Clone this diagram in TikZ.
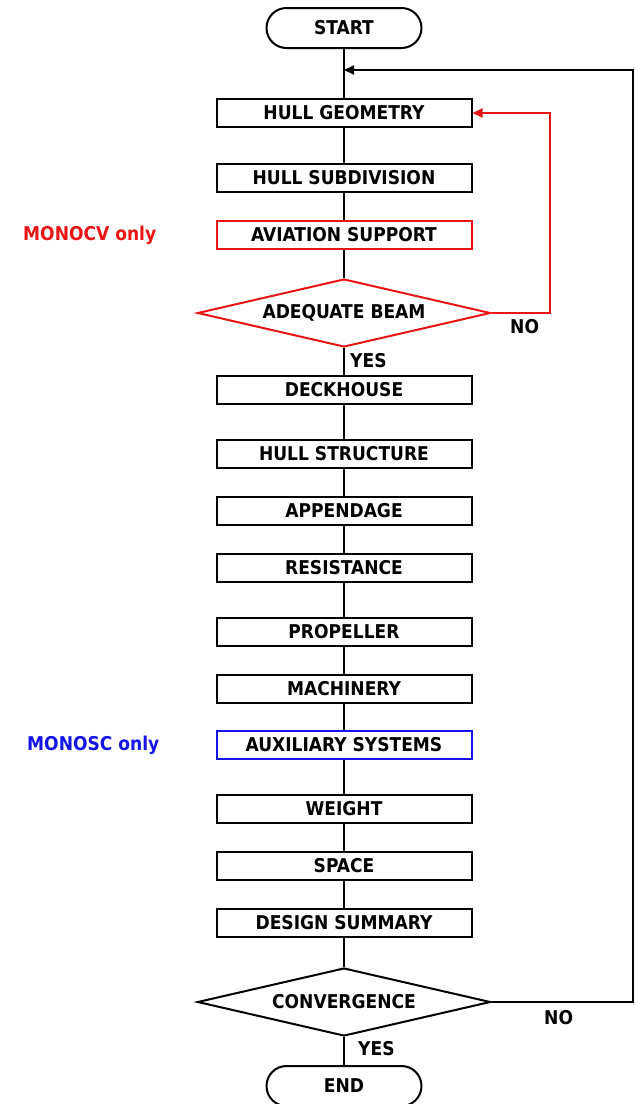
\documentclass[tikz,border=0pt]{standalone}
\usepackage{fontspec}
\setmainfont{DejaVu Sans Condensed}
\usetikzlibrary{shapes.geometric,shapes.misc,arrows.meta}
\definecolor{myred}{RGB}{235,20,20}
\definecolor{myblue}{RGB}{20,20,230}
\begin{document}
\begin{tikzpicture}[x=1pt,y=-1pt,
  font=\fontsize{19}{21}\selectfont\bfseries,
  box/.style={draw,line width=2pt,minimum width=255pt,minimum height=28pt,inner sep=0pt},
  term/.style={draw,line width=2pt,rounded rectangle,minimum width=155pt,minimum height=40pt,inner sep=0pt},
  dec/.style={draw,line width=2pt,diamond,aspect=4.3,minimum width=293pt,minimum height=68pt,inner sep=0pt},
  conn/.style={line width=2pt},
  tip/.style={-{Triangle[length=10pt,width=9pt]}},
  lbl/.style={inner sep=0pt}]
\useasboundingbox (0,0) rectangle (635,1104);
\node[term] (start) at (344,28) {START};
\node[box] (hg) at (344,113) {HULL GEOMETRY};
\node[box] (hs) at (344,178) {HULL SUBDIVISION};
\node[box,draw=myred] (av) at (344,235) {AVIATION SUPPORT};
\node[dec,draw=myred] (ab) at (344,313) {ADEQUATE BEAM};
\node[box] (dh) at (344,390) {DECKHOUSE};
\node[box] (hst) at (344,454) {HULL STRUCTURE};
\node[box] (ap) at (344,511) {APPENDAGE};
\node[box] (re) at (344,568) {RESISTANCE};
\node[box] (pr) at (344,632) {PROPELLER};
\node[box] (ma) at (344,689) {MACHINERY};
\node[box,draw=myblue] (ax) at (344,745) {AUXILIARY SYSTEMS};
\node[box] (we) at (344,809) {WEIGHT};
\node[box] (sp) at (344,866) {SPACE};
\node[box] (ds) at (344,923) {DESIGN SUMMARY};
\node[dec] (cv) at (344,1002) {CONVERGENCE};
\node[term] (en) at (344,1086) {END};

\node[lbl,text=myred,anchor=west] (l1) at (23,235) {MONOCV only};
\node[lbl,text=myblue,anchor=west] (l2) at (27,745) {MONOSC only};
\node[lbl,anchor=west] (y1) at (350,361) {YES};
\node[lbl,anchor=west] (n1) at (510,327) {NO};
\node[lbl,anchor=west] (y2) at (358,1049) {YES};
\node[lbl,anchor=west] (n2) at (544,1018) {NO};

\coordinate (join) at (344,70);
\draw[conn] (start) -- (hg) -- (hs) -- (av) -- (ab) -- (dh) -- (hst) -- (ap) -- (re) -- (pr) -- (ma) -- (ax) -- (we) -- (sp) -- (ds) -- (cv) -- (en);
\draw[conn,myred,tip] (ab.east) -- (550,313) -- (550,113) -- (hg.east);
\draw[conn,tip] (cv.east) -- (633,1002) -- (633,70) -- (join);
\end{tikzpicture}
\end{document}
